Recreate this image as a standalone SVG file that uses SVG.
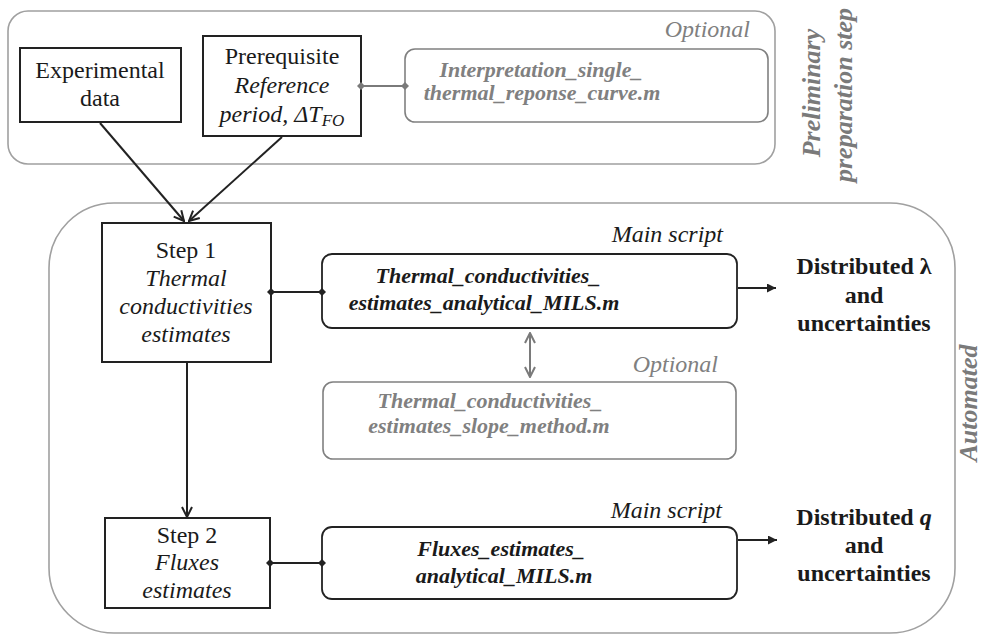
<svg xmlns="http://www.w3.org/2000/svg" width="985" height="635" viewBox="0 0 985 635" font-family="'Liberation Serif', 'Times New Roman', Tinos, 'Noto Serif', 'DejaVu Serif', FreeSerif, Times, serif">
<defs>
<style>
text{font-family:'Liberation Serif','Times New Roman',Tinos,'Noto Serif','DejaVu Serif',FreeSerif,Times,serif;}
.t{font-size:24px;fill:#1a1a1a;text-anchor:middle;}
.it{font-style:italic;}
.code{font-size:22px;font-weight:bold;font-style:italic;text-anchor:middle;fill:#1a1a1a;}
.codeg{font-size:22px;font-weight:bold;font-style:italic;text-anchor:middle;fill:#808080;}
.lab{font-size:24px;font-style:italic;text-anchor:end;fill:#1a1a1a;}
.labg{font-size:24px;font-style:italic;text-anchor:end;fill:#808080;}
.out{font-size:24px;font-weight:bold;text-anchor:middle;fill:#1a1a1a;}
.side{font-size:26px;font-weight:bold;font-style:italic;text-anchor:middle;fill:#7a7a7a;}
.cont{fill:none;stroke:#a0a0a0;stroke-width:1.6;}
.box{fill:#fff;stroke:#222;stroke-width:2;}
.cbox{fill:#fff;stroke:#222;stroke-width:1.8;}
.cboxg{fill:#fff;stroke:#808080;stroke-width:1.6;}
.ln{fill:none;stroke:#222;stroke-width:2;}
.lng{fill:none;stroke:#7a7a7a;stroke-width:2;}
</style>
<marker id="open" viewBox="0 0 12 12" refX="11" refY="6" markerWidth="12" markerHeight="12" markerUnits="userSpaceOnUse" orient="auto-start-reverse"><path d="M1,1 L11,6 L1,11" fill="none" stroke="#222" stroke-width="2"/></marker>
<marker id="openg" viewBox="0 0 12 12" refX="11" refY="6" markerWidth="12" markerHeight="12" markerUnits="userSpaceOnUse" orient="auto-start-reverse"><path d="M1,1 L11,6 L1,11" fill="none" stroke="#7a7a7a" stroke-width="2"/></marker>
<marker id="solid" viewBox="0 0 10 10" refX="10" refY="5" markerWidth="10" markerHeight="9" markerUnits="userSpaceOnUse" orient="auto"><path d="M0,0 L10,5 L0,10 z" fill="#222"/></marker>
<marker id="dia" viewBox="0 0 8 8" refX="4" refY="4" markerWidth="8" markerHeight="8" markerUnits="userSpaceOnUse" orient="0"><path d="M4,0 L8,4 L4,8 L0,4 z" fill="#222"/></marker>
<marker id="diag" viewBox="0 0 8 8" refX="4" refY="4" markerWidth="8" markerHeight="8" markerUnits="userSpaceOnUse" orient="0"><path d="M4,0 L8,4 L4,8 L0,4 z" fill="#7a7a7a"/></marker>
</defs>
<rect width="985" height="635" fill="#fff"/>

<g id="preliminary">
<rect class="cont" x="8" y="11" width="767" height="153" rx="20"/>
<text class="side" transform="translate(820,93) rotate(-90)">Preliminary</text>
<text class="side" transform="translate(852,95) rotate(-90)">preparation step</text>
</g>

<g id="automated">
<rect class="cont" x="49" y="203" width="906" height="430" rx="65"/>
<text class="side" transform="translate(977,403) rotate(-90)">Automated</text>
</g>

<g id="experimental-data">
<rect class="box" x="20" y="48" width="161" height="74"/>
<text class="t" x="100" y="78">Experimental</text>
<text class="t" x="100" y="106">data</text>
</g>

<g id="prerequisite">
<rect class="box" x="203" y="36" width="158" height="100"/>
<text class="t" x="282" y="64">Prerequisite</text>
<text class="t it" x="282" y="93">Reference</text>
<text class="t it" x="282" y="122">period, ΔT<tspan font-size="17" dy="4">FO</tspan></text>
</g>

<g id="interpretation">
<text class="labg" x="750" y="37">Optional</text>
<rect class="cboxg" x="405" y="49" width="363" height="73" rx="10"/>
<text class="codeg" x="541" y="77">Interpretation_single_</text>
<text class="codeg" x="542" y="100">thermal_reponse_curve.m</text>
</g>

<g id="step1">
<rect class="box" x="102" y="223" width="169" height="139"/>
<text class="t" x="186" y="258">Step 1</text>
<text class="t it" x="186" y="286">Thermal</text>
<text class="t it" x="186" y="314">conductivities</text>
<text class="t it" x="186" y="342">estimates</text>
</g>

<g id="main-script-1">
<text class="lab" x="723" y="242">Main script</text>
<rect class="cbox" x="322" y="254" width="415" height="74" rx="10"/>
<text class="code" x="488" y="283">Thermal_conductivities_</text>
<text class="code" x="484" y="310">estimates_analytical_MILS.m</text>
</g>

<g id="optional-slope">
<text class="labg" x="718" y="372">Optional</text>
<rect class="cboxg" x="323" y="382" width="413" height="77" rx="10"/>
<text class="codeg" x="490" y="408">Thermal_conductivities_</text>
<text class="codeg" x="489" y="433">estimates_slope_method.m</text>
</g>

<g id="output-lambda">
<text class="out" x="864" y="274">Distributed λ</text>
<text class="out" x="864" y="303">and</text>
<text class="out" x="864" y="331">uncertainties</text>
</g>

<g id="step2">
<rect class="box" x="105" y="518" width="165" height="90"/>
<text class="t" x="187" y="543">Step 2</text>
<text class="t it" x="187" y="570">Fluxes</text>
<text class="t it" x="187" y="598">estimates</text>
</g>

<g id="main-script-2">
<text class="lab" x="722" y="518">Main script</text>
<rect class="cbox" x="322" y="527" width="415" height="72" rx="10"/>
<text class="code" x="501" y="556">Fluxes_estimates_</text>
<text class="code" x="504" y="583">analytical_MILS.m</text>
</g>

<g id="output-q">
<text class="out" x="864" y="525">Distributed <tspan font-style="italic">q</tspan></text>
<text class="out" x="864" y="553">and</text>
<text class="out" x="864" y="581">uncertainties</text>
</g>

<g id="connectors">
<line class="ln" x1="100" y1="123" x2="184" y2="221" marker-end="url(#open)"/>
<line class="ln" x1="282" y1="137" x2="189" y2="221" marker-end="url(#open)"/>
<line class="lng" x1="361" y1="86" x2="405" y2="86" marker-start="url(#diag)" marker-end="url(#diag)"/>
<line class="ln" x1="271" y1="292" x2="322" y2="292" marker-start="url(#dia)" marker-end="url(#dia)"/>
<line class="ln" x1="270" y1="563" x2="322" y2="563" marker-start="url(#dia)" marker-end="url(#dia)"/>
<line class="ln" x1="187" y1="363" x2="187" y2="517" marker-end="url(#open)"/>
<line class="ln" x1="738" y1="288" x2="776" y2="288" marker-end="url(#solid)"/>
<line class="ln" x1="738" y1="540" x2="777" y2="540" marker-end="url(#solid)"/>
<line class="lng" x1="530" y1="333" x2="530" y2="377" marker-start="url(#openg)" marker-end="url(#openg)"/>
</g>
</svg>
